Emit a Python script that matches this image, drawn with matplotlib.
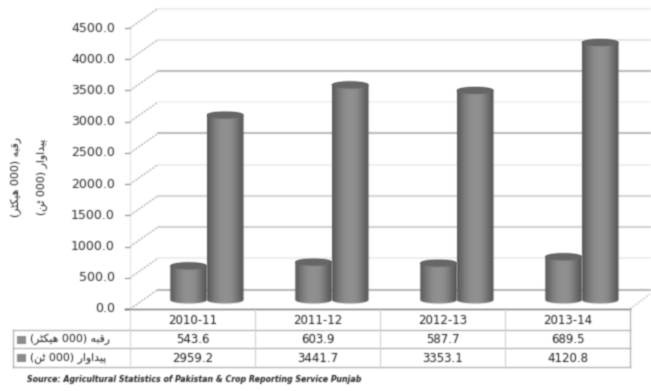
import numpy as np
import matplotlib
matplotlib.use("Agg")
import matplotlib.pyplot as plt
from matplotlib.path import Path
from matplotlib.patches import PathPatch
from matplotlib.lines import Line2D
from matplotlib.transforms import Affine2D

categories = ["2010-11", "2011-12", "2012-13", "2013-14"]
area = [543.6, 603.9, 587.7, 689.5]
production = [2959.2, 3441.7, 3353.1, 4120.8]
y_ticks = [0, 500, 1000, 1500, 2000, 2500, 3000, 3500, 4000, 4500]
grid_colors = ["#b0b0b0", "#ececec", "#cccccc", "#d0d0d0", "#eeeeee", "#b4b4b4", "#f3f3f3", "#b4b4b4", "#e2e2e2", "#ececec"]
# Urdu names in shaped presentation forms, visual left-to-right order
area_label = "(" + "\uFEAE\uFB69\uFB91\uFBFF\uFEEB" + " 000) " + "\uFEEA\uFE92\uFED7\uFEAD"
prod_label = "(" + "\uFEE6\uFB68" + " 000) " + "\uFEAD\uFE8D\uFEED\uFE8D\uFEAA\uFBFF\uFB58"
source = "Source: Agricultural Statistics of Pakistan & Crop Reporting Service Punjab"

W, H = 651, 391
fig = plt.figure(figsize=(W / 100, H / 100), dpi=100, facecolor="white")
L, R, T, B = 130, 630, 28, 309
ax = fig.add_axes([L / W, 1 - B / H, (R - L) / W, (B - T) / H])
ax.set_axis_off()
XLIM = (-0.5, 3.5)
YLIM = (0, 4500)
px_x = (XLIM[1] - XLIM[0]) / (R - L)
px_y = (YLIM[1] - YLIM[0]) / (B - T)


def P(x, y):
    return (x / W, 1 - y / H)


def fline(x0, y0, x1, y1, **kw):
    a, b = P(x0, y0), P(x1, y1)
    l = Line2D([a[0], b[0]], [a[1], b[1]], transform=fig.transFigure, **kw)
    fig.add_artist(l)
    return l


def ftext(x, y, s, **kw):
    return fig.text(*P(x, y), s, **kw)


# back wall gridlines and side wall dashes
back = ax.transData + Affine2D().translate(28, 19.5)
for v, c in zip(y_ticks, grid_colors):
    ax.plot([XLIM[0], XLIM[1] + 0.2], [v, v], color=c, lw=1.3, transform=back, clip_on=False, zorder=1)
    ax.plot([XLIM[0], XLIM[0] + 28 * px_x], [v, v + 19.5 * px_y], color="#8a8a8a", lw=0.7,
            ls=(0, (2, 1.5)), clip_on=False, zorder=1)
    ax.plot([XLIM[0] - 5 * px_x, XLIM[0]], [v, v], color="#8a8a8a", lw=0.8, clip_on=False, zorder=1)
    ax.text(XLIM[0] - 15 * px_x, v, f"{v:.1f}", ha="right", va="center", fontsize=9,
            color="#2a2a2a", clip_on=False)
ax.plot([XLIM[1], XLIM[1] + 20 * px_x], [0, 15 * px_y], color="#aaaaaa", lw=0.7, ls=(0, (2, 1.5)), clip_on=False)
ax.plot([XLIM[0], XLIM[0]], [0, 4500], color="#e4e4e4", lw=0.8, zorder=1)

# cylinders
grad = np.array([[0.36, 0.42, 0.47, 0.51, 0.54, 0.56, 0.57, 0.57, 0.56, 0.54, 0.50, 0.45, 0.40, 0.34]])
ell = 3.6 * px_y
base = 145.0
half = 18.3 * px_x
shift = 14.4 * px_x
zb = 3


def cylinder(cx, val, z):
    th = np.linspace(np.pi, 2 * np.pi, 30)
    bot_x = cx + half * np.cos(th)
    bot_y = base + ell * np.sin(th)
    top_x = cx + half * np.cos(th[::-1])
    top_y = base + val - ell * np.sin(th[::-1])
    verts = list(zip(bot_x, bot_y)) + list(zip(top_x, top_y)) + [(bot_x[0], bot_y[0])]
    path = Path(verts, closed=True)
    patch = PathPatch(path, transform=ax.transData, facecolor="none", edgecolor="none")
    ax.add_patch(patch)
    im = ax.imshow(grad, cmap="gray", vmin=0, vmax=1, aspect="auto", interpolation="bilinear",
                   extent=(cx - half, cx + half, base - ell, base + val + ell), zorder=z, clip_on=True)
    im.set_clip_path(patch)
    th2 = np.linspace(0, 2 * np.pi, 50)
    ax.fill(cx + half * np.cos(th2), base + val + ell * np.sin(th2), color="#666666", lw=0, zorder=z + 0.1)


for i, (a, p) in enumerate(zip(area, production)):
    cylinder(i + shift - half, a, zb + i * 0.5)
    cylinder(i + shift + half, p, zb + i * 0.5 + 0.2)
ax.set_xlim(*XLIM)
ax.set_ylim(*YLIM)

# data table
row_y = [309, 330, 348, 367]
col_x = [L + i * 125 for i in range(5)]
fline(125, 309, R, 309, color="#7a7a7a", lw=1.0)
for y in row_y[1:]:
    fline(13, y, R, y, color="#b0b0b0", lw=0.9)
for x in col_x[1:4]:
    fline(x, 309, x, 367, color="#cfcfcf", lw=0.8)
fline(13, 330, 13, 367, color="#b0b0b0", lw=0.9)
fline(L, 309, L, 367, color="#d5d5d5", lw=0.8)
fline(R, 309, R, 367, color="#b0b0b0", lw=0.9)
for i, c in enumerate(categories):
    xc = col_x[i] + 62.5
    ftext(xc, 321, c, ha="center", va="center", fontsize=8.5, color="#1c1c1c")
    ftext(xc, 339.5, f"{area[i]:.1f}", ha="center", va="center", fontsize=8.5, color="#1c1c1c")
    ftext(xc, 358, f"{production[i]:.1f}", ha="center", va="center", fontsize=8.5, color="#1c1c1c")
for y, s in [(339.5, area_label), (358, prod_label)]:
    fig.patches.append(plt.Rectangle(P(17, y + 4), 9 / W, 8 / H, transform=fig.transFigure,
                                     facecolor="#8c8c8c", edgecolor="none"))
    ftext(30, y, s, ha="left", va="center", fontsize=7.8, color="#1c1c1c")

# rotated axis title
ftext(16, 177, area_label, rotation=90, ha="center", va="center", fontsize=7.8, color="#1c1c1c")
ftext(42, 177, prod_label, rotation=90, ha="center", va="center", fontsize=7.8, color="#1c1c1c")

ftext(27, 380, source, ha="left", va="center", fontsize=5.7, color="#222222", fontweight="bold", style="italic")


# soft focus of the scanned original
def blur_filter(img, dpi, sigma=0.7):
    pad = 3
    x = np.arange(-pad, pad + 1)
    k = np.exp(-x ** 2 / (2 * sigma ** 2))
    k /= k.sum()
    im = np.pad(img, ((pad, pad), (pad, pad), (0, 0))).astype(float)
    im[..., :3] *= im[..., 3:]
    for axis in (0, 1):
        im = np.apply_along_axis(lambda m: np.convolve(m, k, mode="same"), axis, im)
    a = np.clip(im[..., 3:], 1e-6, 1)
    im[..., :3] = np.clip(im[..., :3] / a, 0, 1)
    im[..., 3] = np.clip(im[..., 3], 0, 1)
    return im, -pad, -pad


for art in fig.findobj(lambda o: isinstance(o, (plt.Text, Line2D, matplotlib.patches.Patch, matplotlib.image.AxesImage))):
    if art is fig.patch or art is ax.patch:
        continue
    if isinstance(art, plt.Text) and not art.get_text():
        continue
    art.set_agg_filter(blur_filter)

fig.savefig("out.png", dpi=100, facecolor="white")
